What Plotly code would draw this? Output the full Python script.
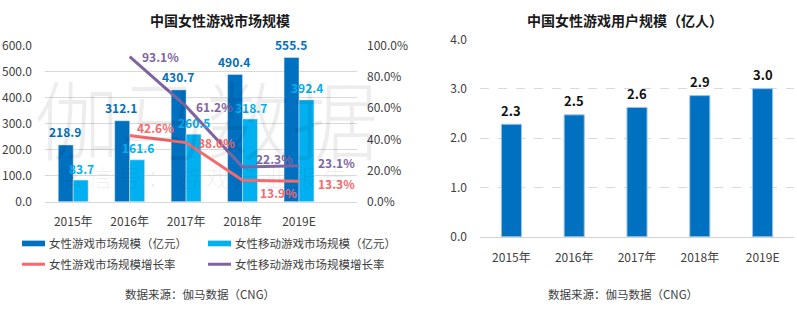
import plotly.graph_objects as go

# ---------------- data ----------------
years = ["2015年", "2016年", "2017年", "2018年", "2019E"]
market_size = [218.9, 312.1, 430.7, 490.4, 555.5]          # 女性游戏市场规模（亿元）
mobile_size = [83.7, 161.6, 260.5, 318.7, 392.4]            # 女性移动游戏市场规模（亿元）
growth_years = ["2016年", "2017年", "2018年", "2019E"]
market_growth = [0.426, 0.380, 0.139, 0.133]                # 女性游戏市场规模增长率
mobile_growth = [0.931, 0.612, 0.223, 0.231]                # 女性移动游戏市场规模增长率
users = [2.28, 2.47, 2.62, 2.86, 3.0]                       # 中国女性游戏用户规模（亿人）

# label offsets (pixels) for the growth-rate labels
market_growth_shift = [(5, 8), (10, 0), (15, -12), (17, -2)]
mobile_growth_shift = [(10, 0), (8, 0), (11, 9), (17, 3)]

FONT = "Noto Sans CJK SC"
DARK = "#0070C0"
LIGHT = "#00B0F0"
RED = "#F8696B"
PURPLE = "#8064A2"
GREY_TXT = "#404040"
W, H = 797, 310
BAR_HALF_PX = 8.3   # half width of one grouped bar, in pixels

fig = go.Figure()

# left chart bars
fig.add_bar(x=years, y=market_size, name="女性游戏市场规模（亿元）",
            marker=dict(color=DARK), xaxis="x", yaxis="y", showlegend=False)
fig.add_bar(x=years, y=mobile_size, name="女性移动游戏市场规模（亿元）",
            marker=dict(color=LIGHT), xaxis="x", yaxis="y", showlegend=False)

# left chart lines
fig.add_scatter(x=growth_years, y=market_growth, mode="lines", name="女性游戏市场规模增长率",
                line=dict(color=RED, width=3), xaxis="x", yaxis="y2", showlegend=False,
                cliponaxis=False)
fig.add_scatter(x=growth_years, y=mobile_growth, mode="lines", name="女性移动游戏市场规模增长率",
                line=dict(color=PURPLE, width=3), xaxis="x", yaxis="y2", showlegend=False,
                cliponaxis=False)

# right chart bars
fig.add_bar(x=years, y=users, name="用户规模", width=0.32,
            marker=dict(color=DARK, line=dict(color="#9CC3E8", width=1)),
            xaxis="x2", yaxis="y3", showlegend=False)

annotations = []
# bar value labels
for yr, v in zip(years, market_size):
    annotations.append(dict(x=yr, y=v, xref="x", yref="y", text=f"{v:.1f}", showarrow=False,
                            xanchor="center", yanchor="middle", xshift=-BAR_HALF_PX, yshift=13,
                            font=dict(color=DARK, size=12, family=FONT, weight="bold")))
for yr, v in zip(years, mobile_size):
    annotations.append(dict(x=yr, y=v, xref="x", yref="y", text=f"{v:.1f}", showarrow=False,
                            xanchor="center", yanchor="middle", xshift=BAR_HALF_PX, yshift=12,
                            font=dict(color=LIGHT, size=12, family=FONT, weight="bold")))
for yr, v in zip(years, users):
    annotations.append(dict(x=yr, y=v, xref="x2", yref="y3", text=f"{v:.1f}", showarrow=False,
                            xanchor="center", yanchor="middle", yshift=14,
                            font=dict(color="#111111", size=13, family=FONT, weight="bold")))
# growth labels
for yr, v, (dx, dy) in zip(growth_years, market_growth, market_growth_shift):
    annotations.append(dict(x=yr, y=v, xref="x", yref="y2", text=f"{v*100:.1f}%",
                            showarrow=False, xanchor="left", yanchor="middle",
                            xshift=dx, yshift=dy,
                            font=dict(color=RED, size=12, family=FONT, weight="bold")))
for yr, v, (dx, dy) in zip(growth_years, mobile_growth, mobile_growth_shift):
    annotations.append(dict(x=yr, y=v, xref="x", yref="y2", text=f"{v*100:.1f}%",
                            showarrow=False, xanchor="left", yanchor="middle",
                            xshift=dx, yshift=dy,
                            font=dict(color=PURPLE, size=12, family=FONT, weight="bold")))


def px(x):
    return x / W


def py(y):
    return 1 - y / H


# titles
annotations.append(dict(x=px(220), y=py(11), xref="paper", yref="paper", text="中国女性游戏市场规模",
                        showarrow=False, xanchor="center", yanchor="middle",
                        font=dict(size=14, family=FONT, color="#1a1a1a", weight="bold")))
annotations.append(dict(x=px(625), y=py(11), xref="paper", yref="paper", text="中国女性游戏用户规模（亿人）",
                        showarrow=False, xanchor="center", yanchor="middle",
                        font=dict(size=14, family=FONT, color="#1a1a1a", weight="bold")))
# source notes
for cx in (200, 623):
    annotations.append(dict(x=px(cx), y=py(301), xref="paper", yref="paper",
                            text="数据来源：伽马数据（CNG）", showarrow=False,
                            xanchor="center", yanchor="middle",
                            font=dict(size=11.5, family=FONT, color=GREY_TXT)))
# watermark
annotations.append(dict(x=px(206), y=py(113), xref="paper", yref="paper", text="伽马数据",
                        showarrow=False, xanchor="center", yanchor="middle",
                        font=dict(size=86, family=FONT, color="rgba(0,0,0,0.07)", weight=300)))
annotations.append(dict(x=px(203), y=py(176), xref="paper", yref="paper",
                        text="微 信 号 ： 游 戏 产 业 报 告",
                        showarrow=False, xanchor="center", yanchor="middle",
                        font=dict(size=24, family=FONT, color="rgba(0,0,0,0.07)", weight=300)))

# custom legend
legend_items = [
    ("女性游戏市场规模（亿元）", DARK, "bar", 22, 247),
    ("女性移动游戏市场规模（亿元）", LIGHT, "bar", 208, 247),
    ("女性游戏市场规模增长率", RED, "line", 22, 269),
    ("女性移动游戏市场规模增长率", PURPLE, "line", 208, 269),
]
shapes = []
for label, col, kind, lx, ly in legend_items:
    if kind == "bar":
        shapes.append(dict(type="rect", xref="paper", yref="paper",
                           x0=px(lx), x1=px(lx + 23), y0=py(ly + 3), y1=py(ly - 3),
                           fillcolor=col, line=dict(width=0)))
    else:
        shapes.append(dict(type="line", xref="paper", yref="paper",
                           x0=px(lx), x1=px(lx + 23), y0=py(ly), y1=py(ly),
                           line=dict(color=col, width=3)))
    annotations.append(dict(x=px(lx + 25), y=py(ly), xref="paper", yref="paper", text=label,
                            showarrow=False, xanchor="left", yanchor="middle",
                            font=dict(size=11.5, family=FONT, color=GREY_TXT)))

fig.update_layout(
    width=W, height=H,
    margin=dict(l=0, r=0, t=0, b=0),
    paper_bgcolor="white", plot_bgcolor="white",
    font=dict(family=FONT, size=12, color=GREY_TXT),
    barmode="group", bargap=0.47, bargroupgap=0,
    showlegend=False,
    xaxis=dict(domain=[px(45), px(357)], anchor="y", type="category",
               showgrid=False, showline=True, linecolor="#D9D9D9", linewidth=1,
               ticks="", ticklabelstandoff=9, tickfont=dict(size=12, color=GREY_TXT)),
    yaxis=dict(domain=[py(203), py(38)], anchor="x", range=[0, 600], dtick=100,
               tickformat=".1f", showgrid=True, gridcolor="#D9D9D9", zeroline=False,
               ticks="", ticklabelstandoff=12, tickfont=dict(size=12, color=GREY_TXT)),
    yaxis2=dict(overlaying="y", side="right", anchor="x", range=[0, 1], dtick=0.2,
                tickformat=".1%", showgrid=False, zeroline=False, ticks="",
                ticklabelstandoff=9, tickfont=dict(size=12, color=GREY_TXT)),
    xaxis2=dict(domain=[px(480), px(794)], anchor="y3", type="category",
                showgrid=False, showline=True, linecolor="#D0D0D0", linewidth=1,
                ticks="", ticklabelstandoff=10, tickfont=dict(size=12, color=GREY_TXT)),
    yaxis3=dict(domain=[py(240), py(31)], anchor="x2", range=[0, 4], dtick=1,
                tickformat=".1f", showgrid=True, gridcolor="#D9D9D9", griddash="dash",
                zeroline=False, ticks="", ticklabelstandoff=12,
                tickfont=dict(size=12, color=GREY_TXT)),
    annotations=annotations,
    shapes=shapes,
)

fig.write_html("out.html")
